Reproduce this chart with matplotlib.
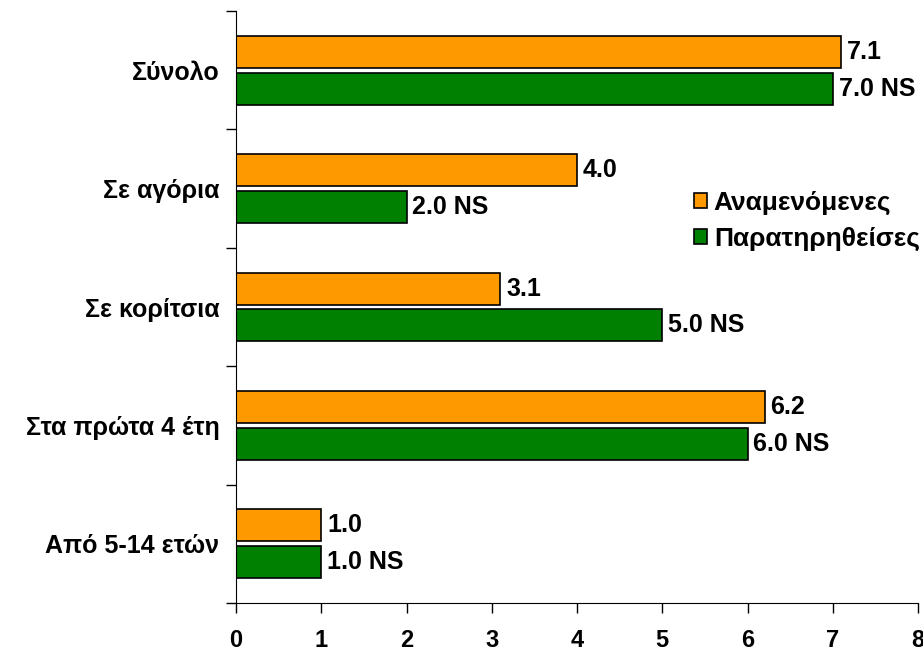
import numpy as np
import matplotlib
matplotlib.use("Agg")
import matplotlib.pyplot as plt
import matplotlib.patches as mpatches

# ---------------------------------------------------------------------------
# Data
# ---------------------------------------------------------------------------
categories = ["Σύνολο", "Σε αγόρια", "Σε κορίτσια", "Στα πρώτα 4 έτη", "Από 5-14 ετών"]
expected = [7.1, 4.0, 3.1, 6.2, 1.0]
observed = [7.0, 2.0, 5.0, 6.0, 1.0]
series_names = ["Αναμενόμενες", "Παρατηρηθείσες"]
x_ticks = [0, 1, 2, 3, 4, 5, 6, 7, 8]

ORANGE = "#FF9900"
GREEN = "#008000"
FS = 18

plt.rcParams["font.family"] = ["Liberation Sans", "DejaVu Sans"]
plt.rcParams["font.weight"] = "bold"

fig = plt.figure(figsize=(9.23, 6.53), dpi=100)
ax = fig.add_axes([0.2557, 0.0766, 0.7389, 0.9064])

n = len(categories)
centers = n - 0.5 - np.arange(n)        # top category at the top
bar_h = 0.27
off = 0.155

ax.barh(centers + off, expected, height=bar_h, color=ORANGE,
        edgecolor="black", linewidth=1.2)
ax.barh(centers - off, observed, height=bar_h, color=GREEN,
        edgecolor="black", linewidth=1.2)

for y, v in zip(centers, expected):
    ax.text(v + 0.07, y + off, f"{v:.1f}", va="center", ha="left",
            fontsize=FS, fontweight="bold")
for y, v in zip(centers, observed):
    ax.text(v + 0.07, y - off, f"{v:.1f} NS", va="center", ha="left",
            fontsize=FS, fontweight="bold")

ax.set_xlim(0, 8)
ax.set_ylim(0, n)
ax.set_xticks(x_ticks)
ax.set_xticklabels([str(t) for t in x_ticks], fontsize=17, fontweight="bold")
ax.tick_params(axis="x", length=7, width=1, pad=12)

# category boundaries as ticks, labels at band centres
ax.set_yticks(np.arange(n + 1))
ax.set_yticklabels([])
ax.set_yticks(centers, minor=True)
ax.set_yticklabels(categories, minor=True, fontsize=FS, fontweight="bold")
ax.tick_params(axis="y", which="major", length=7, width=1)
ax.tick_params(axis="y", which="minor", length=0, pad=12)

for side in ["top", "right"]:
    ax.spines[side].set_visible(False)

handles = [mpatches.Patch(facecolor=ORANGE, edgecolor="black", linewidth=1.2),
           mpatches.Patch(facecolor=GREEN, edgecolor="black", linewidth=1.2)]
leg = fig.legend(handles, series_names, loc="upper left",
                 bbox_to_anchor=(694 / 923, 1 - 191 / 653), frameon=False,
                 prop={"size": 19, "weight": "bold"},
                 borderpad=0, borderaxespad=0,
                 handlelength=0.5, handleheight=0.5, handletextpad=0.25,
                 labelspacing=0.45)

fig.savefig("out.png", dpi=100)
